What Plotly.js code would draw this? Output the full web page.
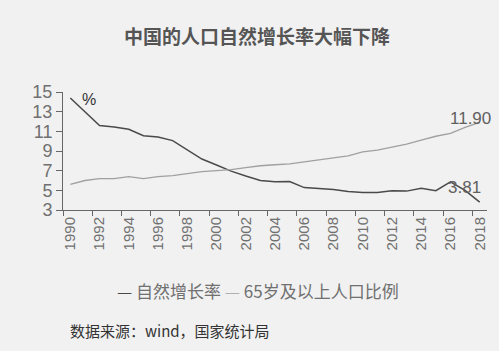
<!DOCTYPE html>
<html>
<head>
<meta charset="utf-8">
<script src="https://cdn.plot.ly/plotly-3.0.1.min.js"></script>
<style>html,body{margin:0;padding:0;background:#f1f1f1;}#chart{width:499px;height:351px;}</style>
</head>
<body>
<div id="chart"></div>
<script>
const years = ["1990","1991","1992","1993","1994","1995","1996","1997","1998","1999","2000","2001","2002","2003","2004","2005","2006","2007","2008","2009","2010","2011","2012","2013","2014","2015","2016","2017","2018"];
const naturalGrowth = [14.39,12.98,11.60,11.45,11.21,10.55,10.42,10.06,9.14,8.18,7.58,6.95,6.45,6.01,5.87,5.89,5.28,5.17,5.08,4.87,4.79,4.79,4.95,4.92,5.21,4.96,5.86,5.0,3.81];
const aged65 = [5.6,6.0,6.2,6.2,6.4,6.2,6.4,6.5,6.7,6.9,7.0,7.1,7.3,7.5,7.6,7.7,7.9,8.1,8.3,8.5,8.9,9.1,9.4,9.7,10.1,10.5,10.8,11.4,11.9];
const seriesNames = ["自然增长率","65岁及以上人口比例"];
const numFont = "'Liberation Sans Narrow','Arial Narrow','Liberation Sans',Arial,sans-serif";
const cjkFont = "'Noto Sans CJK SC','Noto Sans',sans-serif";

const traces = [
  {x: years, y: naturalGrowth, type: "scatter", mode: "lines", name: seriesNames[0],
   line: {color: "#4a4a4a", width: 1.5}},
  {x: years, y: aged65, type: "scatter", mode: "lines", name: seriesNames[1],
   line: {color: "#a0a0a0", width: 1.3}}
];
const last = years.length - 1;
const layout = {
  width: 499, height: 351,
  paper_bgcolor: "#f1f1f1", plot_bgcolor: "rgba(0,0,0,0)",
  margin: {l: 63, r: 12, t: 92, b: 141},
  showlegend: false,
  title: {text: "<b>中国的人口自然增长率大幅下降</b>", x: 0.515, xanchor: "center", y: 0.895, yanchor: "middle",
          font: {family: cjkFont, size: 19, color: "#555555"}},
  xaxis: {type: "category", range: [-0.5, 28.5], dtick: 2, tickson: "boundaries",
          tickangle: -90, ticks: "outside", ticklen: 5, tickcolor: "#666", showline: true,
          linecolor: "#666", linewidth: 1, showgrid: false, zeroline: false,
          tickfont: {family: numFont, size: 15, color: "#707070"}},
  yaxis: {range: [3, 15], dtick: 2, tick0: 3, ticks: "outside", ticklen: 6, tickcolor: "#666",
          showline: true, linecolor: "#666", linewidth: 1, showgrid: false, zeroline: false,
          tickfont: {family: numFont, size: 18, color: "#707070"}},
  annotations: [
    {xref: "paper", yref: "paper", x: 0.04, y: 1.025, text: "%", showarrow: false,
     font: {family: "'Liberation Sans',Arial,sans-serif", size: 16, color: "#333"}},
    {xref: "x", yref: "y", x: last, y: aged65[last], text: aged65[last].toFixed(2), showarrow: false,
     xshift: -9, yshift: 4, font: {family: numFont, size: 17, color: "#606060"}},
    {xref: "x", yref: "y", x: last, y: naturalGrowth[last], text: naturalGrowth[last].toFixed(2), showarrow: false,
     xshift: -15, yshift: 15, font: {family: numFont, size: 17, color: "#606060"}},
    {xref: "paper", yref: "paper", x: 0.46, y: -0.678, xanchor: "center", yanchor: "middle",
     text: "<span style='color:#4a4a4a'>—</span> " + seriesNames[0] + " <span style='color:#b0b0b0'>—</span> " + seriesNames[1],
     showarrow: false, font: {family: cjkFont, size: 17, color: "#707070"}},
    {xref: "paper", yref: "paper", x: 0.012, y: -1.017, xanchor: "left", yanchor: "middle",
     text: "数据来源：wind，国家统计局", showarrow: false,
     font: {family: cjkFont, size: 15, color: "#333"}}
  ]
};
Plotly.newPlot("chart", traces, layout, {displayModeBar: false, staticPlot: true});
</script>
</body>
</html>
